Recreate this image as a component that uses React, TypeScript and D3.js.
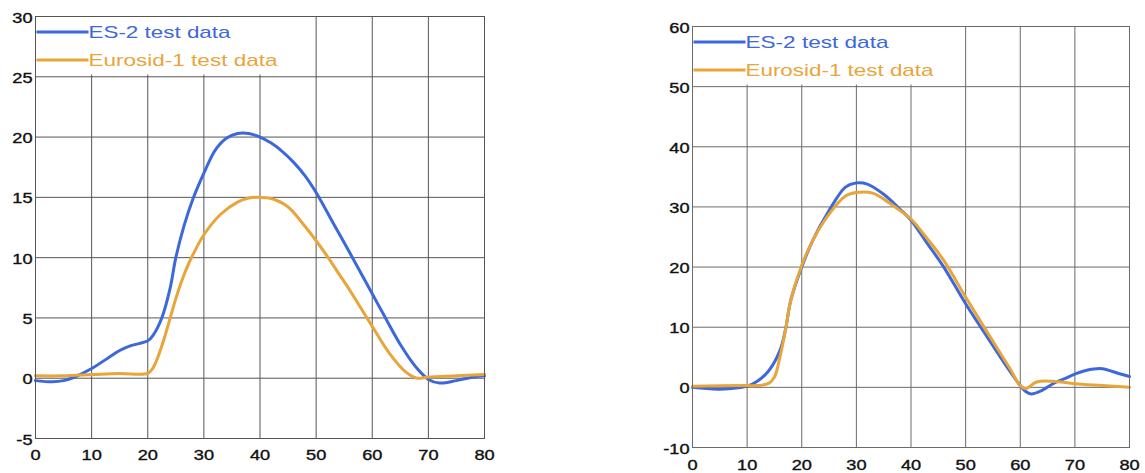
import React from "react";
import * as d3 from "d3";

// ---------- Data ----------
const xTicks = [0, 10, 20, 30, 40, 50, 60, 70, 80];
const leftYTicks = [-5, 0, 5, 10, 15, 20, 25, 30];
const rightYTicks = [-10, 0, 10, 20, 30, 40, 50, 60];
const seriesNames = ["ES-2 test data", "Eurosid-1 test data"];

// Left chart, ES-2
const leftEsT = [0, 3, 5, 7, 10, 13, 15, 17, 20, 21, 22.5, 24, 25, 26.5, 28, 30, 32, 34, 36, 38, 40, 42, 44, 46, 48, 50, 53, 56, 60, 62, 65, 68, 70, 72, 75, 78, 80];
const leftEsV = [-0.2, -0.3, -0.2, 0.1, 0.8, 1.7, 2.3, 2.7, 3.1, 3.6, 5, 7.5, 10, 12.7, 14.8, 17.0, 18.9, 19.9, 20.3, 20.3, 20.0, 19.5, 18.8, 17.9, 16.8, 15.4, 12.9, 10.4, 7.0, 5.3, 2.8, 0.8, -0.1, -0.4, -0.2, 0.1, 0.2];
// Left chart, Eurosid-1
const leftEuT = [0, 5, 10, 15, 20, 21, 22, 23, 24, 25, 26, 27, 28, 30, 33, 36, 38, 40, 42, 45, 48, 50, 52, 54, 56, 58, 60, 63, 66, 68, 70, 75, 80];
const leftEuV = [0.2, 0.2, 0.3, 0.4, 0.4, 0.9, 2, 3.4, 5, 6.6, 8.0, 9.2, 10.2, 11.9, 13.6, 14.6, 14.95, 15, 14.9, 14.2, 12.6, 11.4, 10.1, 8.7, 7.3, 5.8, 4.3, 2.1, 0.5, 0, 0.1, 0.2, 0.3];
// Right chart, ES-2
const rightEsT = [0, 5, 10, 12, 14, 16, 17, 18, 20, 22, 25, 28, 30, 32, 35, 38, 40, 43, 46, 50, 54, 58, 60, 61, 62, 64, 66, 68, 70, 72, 75, 78, 80];
const rightEsV = [0, -0.3, 0.2, 1.1, 2.8, 6.1, 9.5, 14.5, 20, 24.4, 29.4, 33.3, 34, 33.8, 32.1, 29.6, 27.8, 23.9, 20, 13.9, 8.3, 2.8, 0.3, -0.7, -1.1, -0.5, 0.6, 1.4, 2.2, 2.8, 3.1, 2.3, 1.8];
// Right chart, Eurosid-1
const rightEuT = [0, 10, 12, 14, 15, 16, 17, 18, 20, 22, 25, 28, 30, 33, 35, 38, 40, 43, 46, 50, 54, 58, 60, 61, 63, 66, 70, 75, 80];
const rightEuV = [0.2, 0.3, 0.3, 0.7, 1.7, 5, 9.4, 14.5, 20.3, 24.4, 28.8, 31.8, 32.4, 32.3, 31.3, 29.4, 28, 24.7, 21.1, 15, 9.1, 3.3, 0.3, -0.2, 0.9, 1, 0.6, 0.3, 0];

const BLUE = "#3d68dc";
const ORANGE = "#e8a53a";
const FONT = "'Liberation Sans', Arial, Helvetica, sans-serif";

type Series = { t: number[]; v: number[]; color: string; name: string };

type ChartProps = {
  left: number;
  right: number;
  top: number;
  bottom: number;
  yTicks: number[];
  series: Series[];
  gridColor: string;
  legendW: number;
  legendH: number;
  legendLineW: number;
  legendFirstY: number;
  legendGap: number;
  textLengths: number[];
  xLabelOffset: number;
};

function Chart(p: ChartProps) {
  const x = d3.scaleLinear().domain([0, 80]).range([p.left, p.right]);
  const yDomain = d3.extent(p.yTicks) as [number, number];
  const y = d3.scaleLinear().domain(yDomain).range([p.bottom, p.top]);
  const line = d3
    .line<[number, number]>()
    .x((d) => x(d[0]))
    .y((d) => y(d[1]))
    .curve(d3.curveCatmullRom.alpha(0.5));

  return (
    <g>
      {/* grid */}
      {xTicks.map((t) => (
        <line key={"gx" + t} x1={x(t)} x2={x(t)} y1={p.top} y2={p.bottom} stroke={p.gridColor} strokeWidth={1} />
      ))}
      {p.yTicks.map((t) => (
        <line key={"gy" + t} x1={p.left} x2={p.right} y1={y(t)} y2={y(t)} stroke={p.gridColor} strokeWidth={1} />
      ))}
      {/* curves */}
      {p.series.map((s) => (
        <path
          key={s.name}
          d={line(s.t.map((t, i) => [t, s.v[i]] as [number, number])) || ""}
          fill="none"
          stroke={s.color}
          strokeWidth={3}
          strokeLinejoin="round"
          strokeLinecap="round"
        />
      ))}
      {/* legend */}
      <rect x={p.left} y={p.top} width={p.legendW} height={p.legendH} fill="#ffffff" />
      {p.series.map((s, i) => {
        const ly = p.legendFirstY + i * p.legendGap;
        return (
          <g key={"lg" + s.name}>
            <line x1={p.left + 1} x2={p.left + 1 + p.legendLineW} y1={ly} y2={ly} stroke={s.color} strokeWidth={3} />
            <text
              x={p.left + 1 + p.legendLineW}
              y={ly + 6}
              fontFamily={FONT}
              fontSize={17}
              fill={s.color}
              textLength={p.textLengths[i]}
              lengthAdjust="spacingAndGlyphs"
            >
              {s.name}
            </text>
          </g>
        );
      })}
      {/* frame */}
      <rect x={p.left} y={p.top} width={p.right - p.left} height={p.bottom - p.top} fill="none" stroke={p.gridColor} strokeWidth={1} />
      {/* tick labels */}
      {p.yTicks.map((t) => (
        <text
          key={"ly" + t}
          transform={`translate(${p.left - 3},${y(t) + 6}) scale(1.3,1)`}
          textAnchor="end"
          fontFamily={FONT}
          fontSize={14}
          fill="#111"
          stroke="#111"
          strokeWidth={0.35}
        >
          {t}
        </text>
      ))}
      {xTicks.map((t) => (
        <text
          key={"lx" + t}
          transform={`translate(${x(t)},${p.bottom + p.xLabelOffset}) scale(1.3,1)`}
          textAnchor="middle"
          fontFamily={FONT}
          fontSize={14}
          fill="#111"
          stroke="#111"
          strokeWidth={0.35}
        >
          {t}
        </text>
      ))}
    </g>
  );
}

export default function App() {
  return (
    <svg
      width={1145}
      height={473}
      style={{ position: "absolute", left: 0, top: 0, display: "block", background: "#fff" }}
    >
      <rect width={1145} height={473} fill="#fff" />
      <Chart
        left={35.5}
        right={484.5}
        top={16.5}
        bottom={438.5}
        yTicks={leftYTicks}
        series={[
          { t: leftEsT, v: leftEsV, color: BLUE, name: seriesNames[0] },
          { t: leftEuT, v: leftEuV, color: ORANGE, name: seriesNames[1] },
        ]}
        gridColor="#555"
        legendW={245}
        legendH={58}
        legendLineW={52}
        legendFirstY={32}
        legendGap={28}
        textLengths={[142, 189]}
        xLabelOffset={21}
      />
      <Chart
        left={692.5}
        right={1129.5}
        top={26.5}
        bottom={447.5}
        yTicks={rightYTicks}
        series={[
          { t: rightEsT, v: rightEsV, color: BLUE, name: seriesNames[0] },
          { t: rightEuT, v: rightEuV, color: ORANGE, name: seriesNames[1] },
        ]}
        gridColor="#6a6a6a"
        legendW={243}
        legendH={58}
        legendLineW={52}
        legendFirstY={42}
        legendGap={28}
        textLengths={[143, 188]}
        xLabelOffset={22}
      />
    </svg>
  );
}
